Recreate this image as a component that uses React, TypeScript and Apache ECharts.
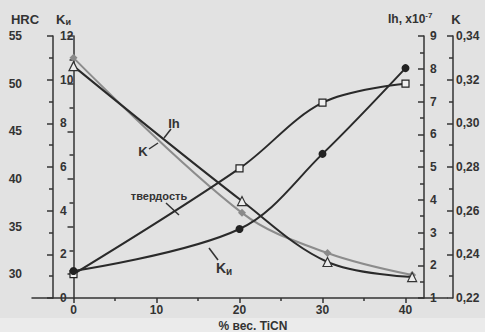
import React, { useEffect, useRef } from "react";
import * as echarts from "echarts";

const xMain = [0, 20, 30, 40];
const xShift = [0, 20.3, 30.6, 40.8];
const hardnessHRC = [30, 41.1, 48, 50];
const kiValues = [1.24, 3.16, 6.6, 10.53];
const ihValues = [8.08, 3.96, 2.1, 1.64];
const kValues = [0.33, 0.259, 0.2406, 0.2305];

const xTicks = [0, 10, 20, 30, 40];
const xMinorTicks = [5, 15, 25, 35];
const hrcTicks = [30, 35, 40, 45, 50, 55];
const hrcMinorTicks = [32.5, 37.5, 42.5, 47.5, 52.5];

const INK = "#333333";
const FONT = "'Liberation Sans', Arial, sans-serif";

const zip = (xs: number[], ys: number[]) => xs.map((x, i) => [x, ys[i]]);

export default function App() {
  const ref = useRef<HTMLDivElement>(null);
  useEffect(() => {
    if (!ref.current) return;
    const chart = echarts.init(ref.current, undefined, { renderer: "svg" });
    const labelStyle = { color: INK, fontFamily: FONT, fontWeight: "bold" as const, fontSize: 12 };
    const axisLine = { show: true, lineStyle: { color: INK, width: 1.5 } };
    const lineCommon = { type: "line", xAxisIndex: 0, smooth: 0.35 };
    const option: any = {
      animation: false,
      backgroundColor: "#e2e2e2",
      grid: { left: 32, right: 38, top: 36, bottom: 34 },
      xAxis: [
        {
          type: "value",
          min: -5,
          max: 45,
          position: "bottom",
          axisLine,
          axisTick: { show: true, customValues: xTicks, length: 5, lineStyle: { color: INK, width: 1.5 } },
          axisLabel: { ...labelStyle, customValues: xTicks, margin: 6 },
          splitLine: { show: false },
        },
        {
          type: "value",
          min: -5,
          max: 45,
          position: "bottom",
          axisLine: { show: false },
          axisTick: { show: true, customValues: xMinorTicks, length: 3, lineStyle: { color: INK, width: 1.5 } },
          axisLabel: { show: false },
          splitLine: { show: false },
        },
      ],
      yAxis: [
        {
          type: "value",
          position: "left",
          offset: 0,
          min: 27.5,
          max: 55,
          axisLine,
          axisTick: { show: true, customValues: hrcTicks, length: 6, lineStyle: { color: INK, width: 1.5 } },
          axisLabel: { ...labelStyle, customValues: hrcTicks, margin: 10 },
          splitLine: { show: false },
        },
        {
          type: "value",
          position: "left",
          offset: 0,
          min: 27.5,
          max: 55,
          axisLine: { show: false },
          axisTick: { show: true, customValues: hrcMinorTicks, length: 4, lineStyle: { color: INK, width: 1.5 } },
          axisLabel: { show: false },
          splitLine: { show: false },
        },
        {
          type: "value",
          position: "left",
          offset: -21,
          min: 0,
          max: 12,
          interval: 2,
          axisLine,
          axisTick: { show: true, length: 6, lineStyle: { color: INK, width: 1.5 } },
          minorTick: { show: true, splitNumber: 2, length: 4, lineStyle: { color: INK, width: 1.5 } },
          axisLabel: { ...labelStyle, inside: true, margin: 7 },
          splitLine: { show: false },
          minorSplitLine: { show: false },
        },
        {
          type: "value",
          position: "right",
          offset: -23,
          min: 1,
          max: 9,
          interval: 1,
          axisLine,
          axisTick: { show: true, inside: true, length: 6, lineStyle: { color: INK, width: 1.5 } },
          minorTick: { show: true, splitNumber: 2, length: 4, lineStyle: { color: INK, width: 1.5 } },
          axisLabel: { ...labelStyle, margin: 6 },
          splitLine: { show: false },
          minorSplitLine: { show: false },
        },
        {
          type: "value",
          position: "right",
          offset: 6,
          min: 0.22,
          max: 0.34,
          interval: 0.02,
          axisLine,
          axisTick: { show: true, inside: true, length: 6, lineStyle: { color: INK, width: 1.5 } },
          minorTick: { show: true, splitNumber: 2, length: 4, lineStyle: { color: INK, width: 1.5 } },
          axisLabel: {
            ...labelStyle,
            margin: 3,
            formatter: (v: number) => v.toFixed(2).replace(".", ","),
          },
          splitLine: { show: false },
          minorSplitLine: { show: false },
        },
      ],
      series: [
        {
          ...lineCommon,
          name: "твердость",
          yAxisIndex: 0,
          data: zip(xMain, hardnessHRC),
          symbol: "rect",
          symbolSize: 7,
          itemStyle: { color: "#f0f0f0", borderColor: "#222", borderWidth: 1.2 },
          lineStyle: { color: "#2a2a2a", width: 2 },
          z: 3,
        },
        {
          ...lineCommon,
          name: "Kи",
          yAxisIndex: 2,
          data: zip(xMain, kiValues),
          symbol: "circle",
          symbolSize: 8,
          itemStyle: { color: "#222" },
          lineStyle: { color: "#2a2a2a", width: 2 },
          z: 4,
        },
        {
          ...lineCommon,
          name: "K",
          yAxisIndex: 4,
          data: zip(xShift, kValues),
          symbol: "diamond",
          symbolSize: 8,
          itemStyle: { color: "#8a8a8a" },
          lineStyle: { color: "#8c8c8c", width: 2 },
          z: 2,
        },
        {
          ...lineCommon,
          name: "Ih",
          yAxisIndex: 3,
          data: zip(xShift, ihValues),
          symbol: "triangle",
          symbolSize: 9,
          itemStyle: { color: "#ececec", borderColor: "#333", borderWidth: 1.2 },
          lineStyle: { color: "#2a2a2a", width: 2 },
          z: 3,
        },
      ],
      graphic: [
        { type: "rect", shape: { x: 0, y: 318, width: 485, height: 14 }, style: { fill: "#ebebeb" }, z: -10, silent: true },
        { type: "text", x: 25, y: 19, style: { text: "HRC", fill: INK, font: `bold 13px ${FONT}`, align: "center", verticalAlign: "middle" } },
        {
          type: "text", x: 56, y: 19,
          style: {
            text: "K{s|и}", fill: INK, font: `bold 13px ${FONT}`, verticalAlign: "middle",
            rich: { s: { fontSize: 9, fontWeight: "bold", fontFamily: FONT, fill: INK, verticalAlign: "bottom", padding: [6, 0, 0, 0] } },
          },
        },
        {
          type: "text", x: 388, y: 19,
          style: {
            text: "Ih, x10{p|-7}", fill: INK, font: `bold 12px ${FONT}`, verticalAlign: "middle",
            rich: { p: { fontSize: 8, fontWeight: "bold", fontFamily: FONT, fill: INK, padding: [0, 0, 7, 0] } },
          },
        },
        { type: "text", x: 456, y: 19, style: { text: "K", fill: INK, font: `bold 13px ${FONT}`, align: "center", verticalAlign: "middle" } },
        { type: "text", x: 253, y: 326, style: { text: "% вес. TiCN", fill: INK, font: `bold 12px ${FONT}`, align: "center", verticalAlign: "middle" } },
        { type: "text", x: 174, y: 123, style: { text: "Ih", fill: INK, font: `bold 13px ${FONT}`, align: "center", verticalAlign: "middle" } },
        { type: "line", shape: { x1: 171, y1: 129, x2: 164, y2: 138 }, style: { stroke: INK, lineWidth: 1.5 } },
        { type: "text", x: 143, y: 151, style: { text: "K", fill: INK, font: `bold 13px ${FONT}`, align: "center", verticalAlign: "middle" } },
        { type: "line", shape: { x1: 149, y1: 149, x2: 158, y2: 143 }, style: { stroke: INK, lineWidth: 1.5 } },
        { type: "text", x: 159, y: 196, style: { text: "твердость", fill: INK, font: `bold 11px ${FONT}`, align: "center", verticalAlign: "middle" } },
        { type: "line", shape: { x1: 166, y1: 203, x2: 179, y2: 215 }, style: { stroke: INK, lineWidth: 1.5 } },
        {
          type: "text", x: 216, y: 268,
          style: {
            text: "K{s|и}", fill: INK, font: `bold 14px ${FONT}`, verticalAlign: "middle",
            rich: { s: { fontSize: 10, fontWeight: "bold", fontFamily: FONT, fill: INK, padding: [6, 0, 0, 0] } },
          },
        },
        { type: "line", shape: { x1: 209, y1: 248, x2: 218, y2: 260 }, style: { stroke: INK, lineWidth: 1.5 } },
      ],
    };
    chart.setOption(option);
    return () => chart.dispose();
  }, []);
  return <div ref={ref} style={{ width: 485, height: 332, position: "absolute", left: 0, top: 0 }} />;
}
